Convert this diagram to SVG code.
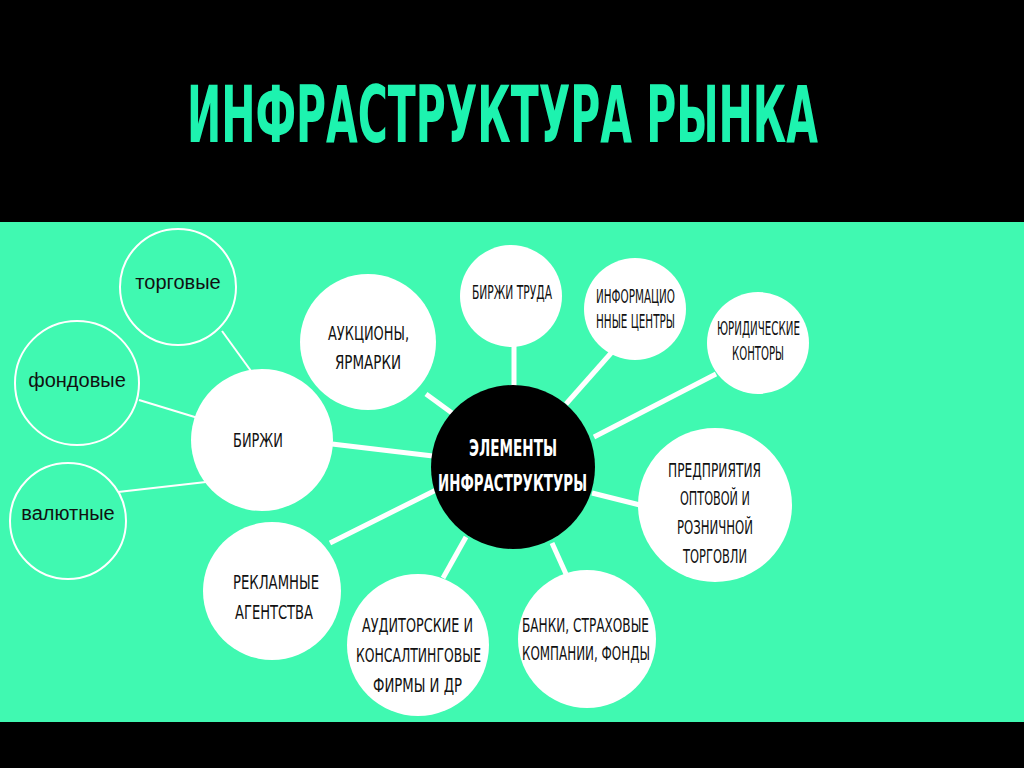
<svg xmlns="http://www.w3.org/2000/svg" width="1024" height="768" viewBox="0 0 1024 768">
<style>
.cond{font-family:"Liberation Sans Narrow","DejaVu Sans Condensed","Liberation Sans",sans-serif;fill:#111;font-size:19px}
.reg{font-family:"Liberation Sans",Arial,sans-serif;fill:#111;font-size:20px}
.white{fill:#fff}
.outl{fill:none;stroke:#fff;stroke-width:2}
.ln{stroke:#fff;stroke-width:5;stroke-linecap:butt}
.ln2{stroke:#fff;stroke-width:2}
</style>
<rect x="0" y="0" width="1024" height="768" fill="#000"/>
<rect x="0" y="222" width="1024" height="500" fill="#40F9B1"/>
<text x="187" y="142" textLength="631" lengthAdjust="spacingAndGlyphs" style="font-family:'Liberation Sans Narrow','DejaVu Sans Condensed','Liberation Sans',sans-serif;font-weight:bold;font-size:79px;fill:#1DF3AF">ИНФРАСТРУКТУРА РЫНКА</text>
<g id="connectors">
<line class="ln2" x1="222" y1="331" x2="251" y2="371"/>
<line class="ln2" x1="139" y1="400" x2="198" y2="418"/>
<line class="ln2" x1="118" y1="492" x2="206" y2="482"/>
<line class="ln" x1="332" y1="444" x2="433" y2="456"/>
<line class="ln" x1="426" y1="394" x2="452" y2="413"/>
<line class="ln" x1="514" y1="344" x2="514" y2="387"/>
<line class="ln" x1="612" y1="352" x2="566" y2="404"/>
<line class="ln" x1="716" y1="374" x2="594" y2="437"/>
<line class="ln" x1="592" y1="493" x2="640" y2="505"/>
<line class="ln" x1="552" y1="543" x2="566" y2="574"/>
<line class="ln" x1="466" y1="537" x2="443" y2="578"/>
<line class="ln" x1="330" y1="543" x2="436" y2="490"/>
</g>
<g id="torgovye"><circle class="outl" cx="178" cy="287" r="58"/><text class="reg" x="178" y="289" text-anchor="middle">торговые</text></g>
<g id="fondovye"><circle class="outl" cx="77" cy="383" r="62"/><text class="reg" x="77" y="387" text-anchor="middle">фондовые</text></g>
<g id="valyutnye"><circle class="outl" cx="68" cy="521" r="58"/><text class="reg" x="68" y="520" text-anchor="middle">валютные</text></g>
<g id="birzhi"><circle class="white" cx="262" cy="440" r="71"/><text class="cond" x="233" y="447" textLength="50" lengthAdjust="spacingAndGlyphs">БИРЖИ</text></g>
<g id="auktsiony"><circle class="white" cx="368" cy="342" r="68"/>
<text class="cond" x="328" y="340" textLength="81" lengthAdjust="spacingAndGlyphs">АУКЦИОНЫ,</text>
<text class="cond" x="335" y="369" textLength="66" lengthAdjust="spacingAndGlyphs">ЯРМАРКИ</text></g>
<g id="birzhi-truda"><circle class="white" cx="511" cy="296" r="51"/><text class="cond" x="472" y="299" textLength="80" lengthAdjust="spacingAndGlyphs">БИРЖИ ТРУДА</text></g>
<g id="info"><circle class="white" cx="635" cy="309" r="51"/>
<text class="cond" x="596" y="303" textLength="79" lengthAdjust="spacingAndGlyphs">ИНФОРМАЦИО</text>
<text class="cond" x="596" y="328" textLength="79" lengthAdjust="spacingAndGlyphs">ННЫЕ ЦЕНТРЫ</text></g>
<g id="yurid"><circle class="white" cx="758" cy="343" r="51"/>
<text class="cond" x="717" y="335" textLength="83" lengthAdjust="spacingAndGlyphs">ЮРИДИЧЕСКИЕ</text>
<text class="cond" x="732" y="360" textLength="52" lengthAdjust="spacingAndGlyphs">КОНТОРЫ</text></g>
<g id="center"><circle fill="#000" cx="513" cy="467" r="82"/>
<text class="cond" x="469" y="456" textLength="88" lengthAdjust="spacingAndGlyphs" style="fill:#fff;font-weight:bold;font-size:23px">ЭЛЕМЕНТЫ</text>
<text class="cond" x="438" y="491" textLength="149" lengthAdjust="spacingAndGlyphs" style="fill:#fff;font-weight:bold;font-size:23px">ИНФРАСТРУКТУРЫ</text></g>
<g id="predpriyatiya"><circle class="white" cx="715" cy="505" r="77"/>
<text class="cond" x="668" y="477" textLength="93" lengthAdjust="spacingAndGlyphs">ПРЕДПРИЯТИЯ</text>
<text class="cond" x="680" y="505" textLength="70" lengthAdjust="spacingAndGlyphs">ОПТОВОЙ И</text>
<text class="cond" x="677" y="534" textLength="76" lengthAdjust="spacingAndGlyphs">РОЗНИЧНОЙ</text>
<text class="cond" x="683" y="563" textLength="64" lengthAdjust="spacingAndGlyphs">ТОРГОВЛИ</text></g>
<g id="banki"><circle class="white" cx="587" cy="639" r="69"/>
<text class="cond" x="522" y="632" textLength="127" lengthAdjust="spacingAndGlyphs">БАНКИ, СТРАХОВЫЕ</text>
<text class="cond" x="522" y="660" textLength="128" lengthAdjust="spacingAndGlyphs">КОМПАНИИ, ФОНДЫ</text></g>
<g id="audit"><circle class="white" cx="418" cy="645" r="71"/>
<text class="cond" x="362" y="632" textLength="111" lengthAdjust="spacingAndGlyphs">АУДИТОРСКИЕ И</text>
<text class="cond" x="356" y="662" textLength="125" lengthAdjust="spacingAndGlyphs">КОНСАЛТИНГОВЫЕ</text>
<text class="cond" x="373" y="692" textLength="89" lengthAdjust="spacingAndGlyphs">ФИРМЫ И ДР</text></g>
<g id="reklama"><circle class="white" cx="272" cy="591" r="69"/>
<text class="cond" x="233" y="589" textLength="86" lengthAdjust="spacingAndGlyphs">РЕКЛАМНЫЕ</text>
<text class="cond" x="235" y="619" textLength="78" lengthAdjust="spacingAndGlyphs">АГЕНТСТВА</text></g>
</svg>
